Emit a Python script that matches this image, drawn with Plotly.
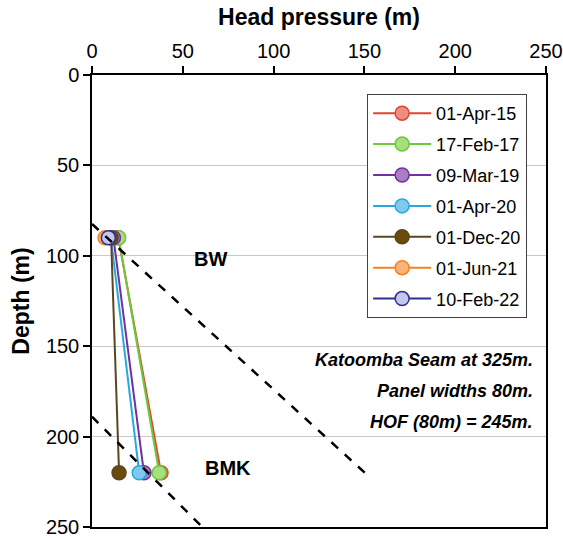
import plotly.graph_objects as go

# Data
dates = ["01-Apr-15", "17-Feb-17", "09-Mar-19", "01-Apr-20", "01-Dec-20", "01-Jun-21", "10-Feb-22"]
depths = {
    "01-Apr-15": [90, 220],
    "17-Feb-17": [90, 220],
    "09-Mar-19": [90, 220],
    "01-Apr-20": [90, 220],
    "01-Dec-20": [90, 220],
    "01-Jun-21": [90],
    "10-Feb-22": [90],
}
pressures = {
    "01-Apr-15": [14.5, 38],
    "17-Feb-17": [14.7, 37],
    "09-Mar-19": [11.8, 28.6],
    "01-Apr-20": [10.4, 26],
    "01-Dec-20": [10.5, 14.9],
    "01-Jun-21": [7.2],
    "10-Feb-22": [9.0],
}
line_colors = ["#E0452F", "#6CC93C", "#7030A0", "#29A8E0", "#5A4620", "#F58220", "#2E3192"]
fill_colors = ["#EC8E80", "#A8DE7E", "#A680C2", "#80C8EE", "#6B4A0A", "#F8B47A", "#C6C6EC"]

# Reference dashed lines (head pressure, depth)
upper_x = [0, 152]
upper_y = [82.4, 221.6]
lower_x = [0, 60.7]
lower_y = [189, 250]

font_family = "Arial, Liberation Sans, sans-serif"

fig = go.Figure()
for i, d in enumerate(dates):
    fig.add_trace(go.Scatter(
        x=pressures[d], y=depths[d], mode="lines+markers", name=d,
        legendgroup=d,
        line=dict(color=line_colors[i], width=2),
        marker=dict(size=14, color=fill_colors[i], line=dict(color=line_colors[i], width=1.5)),
    ))

for xs, ys in [(upper_x, upper_y), (lower_x, lower_y)]:
    fig.add_trace(go.Scatter(
        x=xs, y=ys, mode="lines", showlegend=False,
        line=dict(color="black", width=2.5, dash="dash"),
    ))

annos = [
    dict(x=65.5, y=102, text="<b>BW</b>", xanchor="center", size=20),
    dict(x=75, y=217.5, text="<b>BMK</b>", xanchor="center", size=20),
    dict(x=244, y=157.7, text="<b><i>Katoomba Seam at 325m.</i></b>", xanchor="right", size=18),
    dict(x=244, y=174.7, text="<b><i>Panel widths 80m.</i></b>", xanchor="right", size=18),
    dict(x=244, y=192, text="<b><i>HOF (80m) = 245m.</i></b>", xanchor="right", size=18),
]
for a in annos:
    fig.add_annotation(x=a["x"], y=a["y"], text=a["text"], xanchor=a["xanchor"], yanchor="middle",
                       showarrow=False, font=dict(family=font_family, size=a["size"], color="black"))

fig.update_layout(
    width=563, height=539,
    margin=dict(l=92, r=17, t=75, b=12),
    paper_bgcolor="white", plot_bgcolor="white",
    font=dict(family=font_family, color="black"),
    legend=dict(
        x=0.606, y=0.958, xanchor="left", yanchor="top",
        bordercolor="#404040", borderwidth=1, bgcolor="white",
        font=dict(size=18, family=font_family, color="black"),
        tracegroupgap=4.5, itemwidth=58,
    ),
    xaxis=dict(
        side="top", range=[0, 250], tickvals=[0, 50, 100, 150, 200, 250],
        showgrid=False, zeroline=False, showline=True, linecolor="black", linewidth=1.5, mirror=True,
        ticks="outside", ticklen=7, tickcolor="black", tickwidth=1.5, automargin=False,
        ticklabeloverflow="allow",
        tickfont=dict(size=20, family=font_family),
        title=dict(text="<b>Head pressure (m)</b>", font=dict(size=23, family=font_family), standoff=8),
    ),
    yaxis=dict(
        range=[250, 0], tickvals=[0, 50, 100, 150, 200, 250],
        showgrid=True, gridcolor="#C8C8C8", gridwidth=1, zeroline=False,
        showline=True, linecolor="black", linewidth=1.5, mirror=True,
        ticks="outside", ticklen=7, tickcolor="black", tickwidth=1.5, automargin=False,
        ticklabeloverflow="allow",
        tickfont=dict(size=20, family=font_family),
        title=dict(text="<b>Depth (m)</b>", font=dict(size=23, family=font_family), standoff=10),
    ),
)

fig.write_html("out.html")
